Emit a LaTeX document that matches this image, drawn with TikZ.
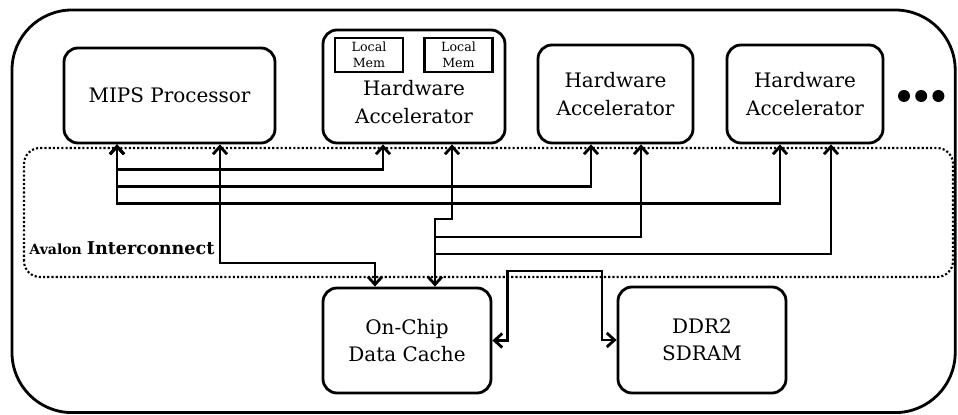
\documentclass[tikz,border=0pt]{standalone}
\usepackage{fontspec}
\setmainfont{DejaVu Serif}
\usetikzlibrary{arrows.meta}

\begin{document}
\begin{tikzpicture}[>={Straight Barb[length=5.5pt, width=10pt]}, line width=2pt,
      box/.style={draw, rounded corners=0.35cm, align=center,
                  font=\fontsize{14.2}{19.5}\selectfont},
      lmem/.style={draw, line width=1.8pt, minimum width=1.7cm, minimum height=0.85cm,
                   inner sep=0pt, align=center, font=\fontsize{9}{11.5}\selectfont},
      al/.style={align=center, font=\fontsize{14.2}{19.5}\selectfont},
      frame/.style={line width=2pt, rounded corners=1.5cm},
      ic/.style={line width=1.5pt, dash pattern=on 1.5pt off 1.5pt, rounded corners=0.4cm}]

    \useasboundingbox (0,0) rectangle (23.95,10.375);

    % chip outline and interconnect region
    \draw[frame] (0.3,0.06) rectangle (23.88,10.125);
    \draw[ic] (0.6,3.45) rectangle (23.825,6.675);
    \node[anchor=base west, font=\bfseries, inner sep=0pt] (avalon) at (0.7,4.0)
      {{\fontsize{10}{12}\selectfont Avalon} {\fontsize{12.5}{15}\selectfont Interconnect}};

    % processor and accelerators
    \node[box, minimum width=5.275cm, minimum height=2.375cm] (mips) at (4.2375,7.9875) {MIPS Processor};
    \node[box, minimum width=4.55cm, minimum height=2.825cm] (ha1) at (10.35,8.2125) {};
    \node[lmem] (lm1) at (9.225,9.0) {Local\\Mem};
    \node[lmem] (lm2) at (11.4625,9.0) {Local\\Mem};
    \node[al] (ha1txt) at (10.35,7.825) {Hardware\\Accelerator};
    \node[box, minimum width=3.875cm, minimum height=2.45cm] (ha2) at (15.3875,8.025) {Hardware\\Accelerator};
    \node[box, minimum width=3.9cm, minimum height=2.45cm] (ha3) at (20.125,8.025) {Hardware\\Accelerator};
    \foreach \x in {22.6,23.03,23.46} \fill (\x,7.975) circle (0.15);

    % memories
    \node[box, minimum width=4.2cm, minimum height=2.625cm] (cache) at (10.175,1.8625) {On-Chip\\Data Cache};
    \node[box, minimum width=4.2cm, minimum height=2.65cm] (ddr) at (17.55,1.875) {DDR2\\SDRAM};

    % MIPS <-> accelerators
    \draw[<->] ([xshift=-1.3125cm]mips.south) -- ++(0,-0.625) -| ([xshift=-0.775cm]ha1.south);
    \draw[<->] ([xshift=-1.3125cm]mips.south) -- ++(0,-1.05) -| ([xshift=-0.6125cm]ha2.south);
    \draw[<->] ([xshift=-1.3125cm]mips.south) -- ++(0,-1.475) -| ([xshift=-0.625cm]ha3.south);

    % masters <-> data cache
    \draw[<->] ([xshift=1.2625cm]mips.south) |- (9.375,3.8) -- ([xshift=-0.8cm]cache.north);
    \draw[<->] ([xshift=0.95cm]ha1.south) |- (10.875,4.9) -- ([xshift=0.7cm]cache.north);
    \coordinate (bus2) at (10.875,4.45);
    \coordinate (bus3) at (10.875,4.025);
    \draw[->] (bus2) -| ([xshift=0.6375cm]ha2.south);
    \draw[->] (bus3) -| ([xshift=0.65cm]ha3.south);

    % cache <-> DDR2
    \draw[<->] (cache.east) -- ++(0.375,0) |- (15.05,3.6) |- (ddr.west);

\end{tikzpicture}
\end{document}
